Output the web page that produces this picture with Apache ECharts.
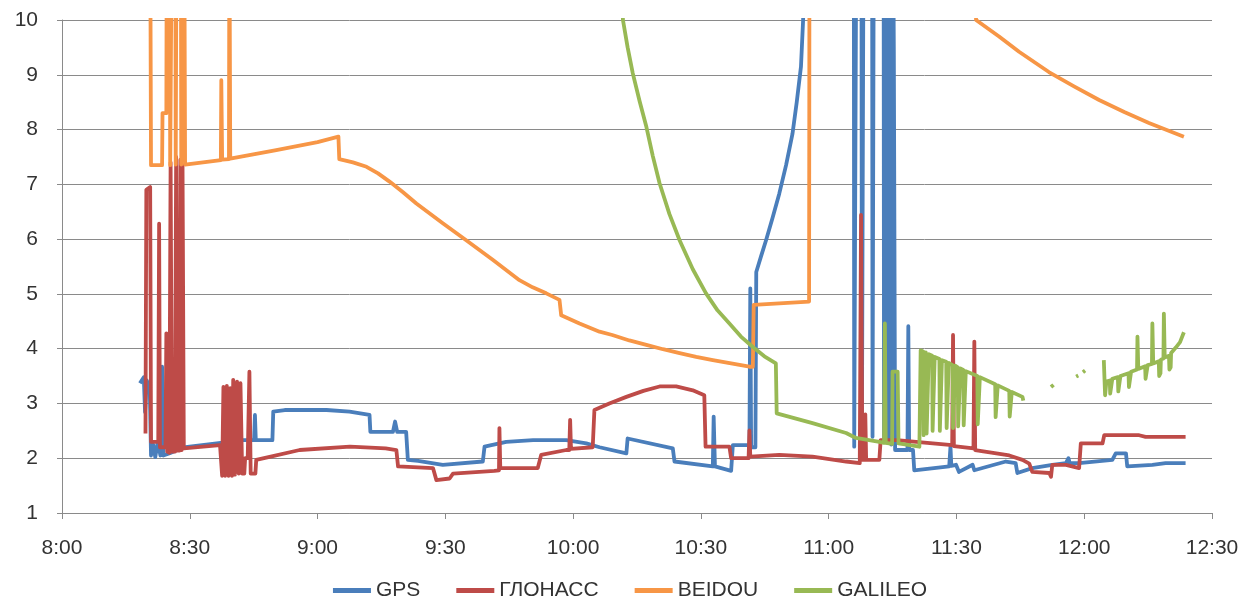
<!DOCTYPE html>
<html>
<head>
<meta charset="utf-8">
<script src="https://cdn.jsdelivr.net/npm/echarts@6/dist/echarts.min.js"></script>
<style>
  html, body { margin: 0; padding: 0; background: #ffffff; }
  #chart { width: 1260px; height: 610px; }
</style>
</head>
<body>
<div id="chart"></div>
<script>
// Time is in minutes after midnight (480 = 8:00); values above 10 run off the top of the plot.
const seriesNames = ['GPS', 'ГЛОНАСС', 'BEIDOU', 'GALILEO'];
const seriesColors = ['#4A7EBB', '#BE4B48', '#F79646', '#98B954'];

const gps = [
  [498.3,3.37],[499.2,3.48],[499.5,2.84],[499.9,3.42],[500.6,3.30],[500.9,2.05],[501.4,2.25],[501.9,2.02],
  [502.5,2.30],[503.1,2.05],[503.5,3.67],[503.8,2.05],[505.3,2.09],[508.5,2.20],[516.3,2.27],[522.5,2.33],
  [525.1,2.33],[525.3,2.79],[525.5,2.33],[529.4,2.33],[529.6,2.85],[532.3,2.88],[542.1,2.88],[547.5,2.85],
  [552.2,2.79],[552.4,2.48],[557.7,2.48],[558.2,2.67],[558.7,2.48],[560.8,2.48],[561.2,1.97],[563.6,1.95],
  [569.4,1.88],[578.8,1.94],[579.2,2.21],[584.3,2.30],[590.6,2.33],[598.4,2.33],[603.1,2.27],[606.2,2.20],
  [612.5,2.09],[612.8,2.36],[623.4,2.18],[623.8,1.94],[632.8,1.85],[633.0,2.76],[633.3,1.85],[637.1,1.77],
  [637.5,2.24],[641.4,2.24],[641.6,5.10],[641.8,2.20],[642.8,2.20],[643.0,5.40],[644.1,5.68],[645.3,5.98],
  [646.8,6.38],[648.4,6.83],[650.0,7.35],[651.5,7.92],[652.5,8.50],[653.5,9.15],[654.0,10.0],[654.6,12],
  [665.9,12],[666.0,2.21],[666.4,2.21],[666.5,12],
  [667.7,12],[667.8,2.25],[668.1,2.25],[668.2,12],[670.2,12],[670.3,2.39],[670.5,2.39],[670.6,12],
  [672.9,12],[673.0,2.30],[673.4,12],[673.9,2.30],[674.3,12],[674.7,2.25],[675.1,12],[675.3,9.46],
  [675.6,2.15],[678.5,2.15],[678.7,4.41],[678.9,2.15],[679.8,2.15],[680.1,1.78],[688.3,1.85],[688.6,2.21],
  [688.8,1.86],[689.9,1.88],[690.6,1.75],[693.8,1.88],[694.2,1.78],[701.6,1.94],[703.9,1.91],[704.3,1.73],
  [707.8,1.82],[712.5,1.88],[715.7,1.91],[716.3,2.00],[716.6,1.91],[718.8,1.91],[719.2,1.94],[726.6,1.97],
  [727.4,2.09],[729.8,2.09],[730.1,1.85],[736.0,1.88],[739.1,1.91],[743.8,1.91]
];

const glonass = [
  [499.6,2.45],[499.8,6.90],[500.7,6.95],[500.9,2.30],[502.6,2.30],[502.8,6.28],[503.0,2.20],[504.3,2.20],
  [504.5,4.28],[504.7,2.12],[505.2,2.10],[505.5,7.40],[505.8,2.12],[506.5,2.12],[506.8,7.50],[507.1,2.14],
  [507.6,2.14],[507.8,7.45],[508.1,2.15],[508.3,7.35],[508.6,2.18],[517.1,2.24],[517.4,2.24],[517.6,1.68],
  [517.9,3.30],[518.3,1.68],[518.7,3.32],[519.1,1.68],[519.5,3.28],[519.9,1.68],[520.2,3.43],[520.6,1.70],
  [521.1,3.40],[521.5,1.72],[521.9,3.37],[522.3,1.72],[522.8,1.72],[523.0,2.00],[523.6,2.00],[524.0,3.58],
  [524.3,1.72],[525.4,1.72],[525.6,1.97],[529.0,2.03],[535.8,2.15],[547.6,2.21],[556.0,2.18],[558.5,2.15],
  [558.9,1.85],[567.1,1.82],[567.9,1.60],[571.0,1.63],[571.8,1.72],[581.5,1.77],[582.6,1.78],[582.7,2.55],
  [582.9,1.82],[591.7,1.82],[592.5,2.06],[598.4,2.15],[599.1,2.15],[599.3,2.70],[599.5,2.17],[604.6,2.20],
  [605.0,2.88],[608.5,3.00],[612.5,3.12],[616.5,3.23],[620.3,3.31],[624.2,3.31],[628.1,3.24],[630.8,3.15],
  [631.1,2.21],[636.7,2.21],[637.1,2.00],[641.2,2.00],[641.4,2.51],[641.6,2.03],[648.4,2.06],[656.2,2.03],
  [664.1,1.94],[667.3,1.91],[667.6,6.44],[667.9,1.97],[668.4,1.97],[668.6,2.80],[668.8,1.97],[671.9,1.97],
  [672.2,2.33],[676.0,2.33],[689.0,2.24],[689.2,4.25],[689.4,2.22],[694.0,2.18],[694.2,4.13],[694.4,2.15],
  [702.4,2.05],[705.5,1.97],[707.1,1.90],[707.8,1.75],[711.8,1.73],[712.2,1.66],[712.5,1.88],[715.7,1.88],
  [718.8,1.82],[719.2,2.27],[724.3,2.27],[724.7,2.42],[732.9,2.42],[734.4,2.39],[743.8,2.39]
];

const beidou = [
  [500.7,12],[500.9,7.35],[503.5,7.35],[503.6,8.30],[504.5,8.30],[504.6,12],[505.3,12],[505.4,7.35],
  [505.7,7.35],[505.8,12],[506.6,12],[506.7,7.36],[506.9,12],[507.9,12],[508.0,7.36],[508.2,12],
  [508.7,12],[508.9,7.36],[517.3,7.44],[517.4,8.90],[517.6,7.45],[519.2,7.46],[519.3,12],[519.5,7.47],
  [530.0,7.62],[540.0,7.77],[544.9,7.87],[545.1,7.46],[548.3,7.40],[551.5,7.32],[554.2,7.20],[556.9,7.05],
  [560.0,6.86],[563.2,6.65],[569.4,6.29],[574.9,5.98],[581.2,5.62],[587.4,5.25],[590.5,5.12],[593.7,5.01],
  [596.8,4.89],[597.2,4.61],[601.5,4.46],[606.2,4.31],[609.2,4.25],[613.2,4.15],[617.2,4.07],[621.1,3.99],
  [625.0,3.92],[628.9,3.85],[632.8,3.79],[637.1,3.73],[641.4,3.67],[642.2,3.67],[642.4,4.80],[655.4,4.86],
  [655.5,12],[694.5,12],[694.6,10.0],[700.0,9.70],[704.7,9.42],[711.7,9.05],[717.6,8.79],[723.5,8.54],
  [729.4,8.32],[735.2,8.12],[743.4,7.87]
];

// '-' marks a break in the line
const galileo = [
  [611.0,12],[611.7,10.0],[612.8,9.50],[614.0,9.03],[615.6,8.52],[617.2,8.05],[618.7,7.52],[620.3,7.02],
  [622.6,6.46],[625.0,5.98],[628.1,5.45],[631.2,5.01],[633.9,4.70],[636.7,4.46],[639.4,4.22],[642.2,4.03],
  [644.9,3.86],[647.6,3.73],[647.8,2.82],[656.2,2.64],[664.1,2.46],[666.4,2.37],[671.9,2.30],[673.0,2.28],
  [673.2,4.46],[673.4,2.28],[674.9,2.26],[675.0,3.58],[676.2,3.58],[676.4,2.27],[681.3,2.21],[681.6,3.97],
  [682.2,3.95],[682.3,2.42],[682.7,2.42],[682.8,3.93],
  [682.9,3.92],[683.0,2.45],[683.4,2.45],[683.5,3.90],
  [684.3,3.87],[684.4,2.50],[684.8,2.50],[684.9,3.85],
  [686.0,3.81],[686.1,2.50],[686.5,2.50],[686.6,3.79],
  [687.6,3.76],[687.7,2.55],[688.1,2.55],[688.2,3.74],
  [689.1,3.70],[689.2,2.55],[689.6,2.55],[689.7,3.69],
  [690.3,3.66],[690.4,2.58],[690.8,2.58],[690.9,3.64],
  [691.6,3.61],[691.7,2.60],[692.1,2.60],[692.2,3.59],
  [694.9,3.50],[695.0,2.62],[695.4,2.62],[695.5,3.48],
  [699.1,3.35],[699.2,2.75],[699.6,2.75],[699.7,3.33],
  [702.4,3.23],[702.5,2.76],[702.9,2.76],[703.0,3.21],
  [705.5,3.12],[705.7,3.05],[705.8,'-'],
  [712.2,3.30],[712.8,3.34],[712.9,'-'],
  [718.1,3.49],[718.6,3.51],[718.7,'-'],
  [719.7,3.57],[720.2,3.60],[720.3,'-'],
  [724.6,3.79],[724.9,3.15],[725.2,3.40],[726.0,3.42],[726.1,3.18],[726.5,3.20],[726.6,3.45],[727.9,3.48],
  [728.0,3.22],[728.4,3.25],[728.5,3.50],[730.4,3.55],[730.5,3.30],[730.9,3.33],[731.0,3.58],[732.4,3.62],
  [732.5,4.22],[732.7,3.63],[734.3,3.68],[734.4,3.45],[734.8,3.48],[734.9,3.70],[735.9,3.72],[736.0,4.46],
  [736.2,3.73],[737.5,3.77],[737.6,3.50],[737.9,3.55],[738.0,3.80],[738.6,3.82],[738.7,4.64],[738.9,3.84],
  [739.9,3.87],[740.0,3.62],[740.3,3.66],[740.4,3.92],[741.5,4.02],[742.5,4.12],[743.4,4.30]
];

const seriesData = [gps, glonass, beidou, galileo];

const fontFamily = '"Liberation Sans", Arial, sans-serif';
const textColor = '#333333';
const gridColor = '#8a8a8a';

function timeLabel(v) {
  const h = Math.floor(v / 60);
  const m = Math.round(v - h * 60);
  return h + ':' + (m < 10 ? '0' + m : m);
}

const chart = echarts.init(document.getElementById('chart'), null, { renderer: 'canvas' });

chart.setOption({
  animation: false,
  backgroundColor: '#ffffff',
  grid: { left: 62, right: 48, top: 20, bottom: 97, containLabel: false },
  legend: {
    bottom: 4,
    left: 'center',
    icon: 'rect',
    itemWidth: 38,
    itemHeight: 5,
    itemGap: 36,
    textStyle: { fontFamily: fontFamily, fontSize: 21, color: textColor },
    data: seriesNames
  },
  xAxis: {
    type: 'value',
    min: 480,
    max: 750,
    interval: 30,
    axisLine: { show: true, lineStyle: { color: gridColor, width: 1 } },
    axisTick: { show: true, length: 6, lineStyle: { color: gridColor } },
    splitLine: { show: false },
    axisLabel: { formatter: timeLabel, margin: 25, fontFamily: fontFamily, fontSize: 21, color: textColor }
  },
  yAxis: {
    type: 'value',
    min: 1,
    max: 10,
    interval: 1,
    axisLine: { show: true, lineStyle: { color: gridColor, width: 1 } },
    axisTick: { show: true, length: 5, lineStyle: { color: gridColor } },
    splitLine: { show: true, lineStyle: { color: gridColor, width: 1 } },
    axisLabel: { margin: 24, fontFamily: fontFamily, fontSize: 21, color: textColor }
  },
  series: seriesNames.map((name, i) => ({
    name: name,
    type: 'line',
    data: seriesData[i],
    color: seriesColors[i],
    showSymbol: false,
    symbol: 'none',
    clip: true,
    connectNulls: false,
    lineStyle: { width: 3.8, color: seriesColors[i], join: 'round' },
    emphasis: { disabled: true }
  }))
});
</script>
</body>
</html>
